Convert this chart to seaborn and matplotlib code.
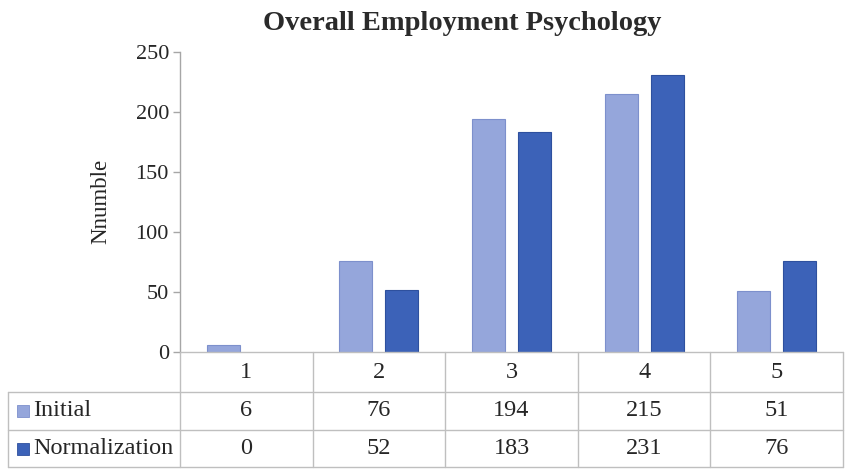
import matplotlib
matplotlib.use("Agg")
import matplotlib.pyplot as plt
from matplotlib.lines import Line2D
from matplotlib.patches import Rectangle
import seaborn as sns
import pandas as pd

categories = ["1", "2", "3", "4", "5"]
initial = [6, 76, 194, 215, 51]
normalization = [0, 52, 183, 231, 76]
series_names = ["Initial", "Normalization"]
title = "Overall Employment Psychology"
ylabel = "Nnumble"
yticks = [0, 50, 100, 150, 200, 250]

colors = ["#95A6DB", "#3C62B8"]
edges = ["#7D90CC", "#2E509E"]
grid_col = "#BFBFBF"

sns.set_theme(style="white")
plt.rcParams["font.family"] = ["Liberation Serif", "DejaVu Serif"]

df = pd.DataFrame({
    "cat": categories * 2,
    "value": initial + normalization,
    "series": [series_names[0]] * 5 + [series_names[1]] * 5,
})

W, H = 851, 472
fig = plt.figure(figsize=(W / 100, H / 100), dpi=100)
x0, x1, ytop, ybot = 180, 843, 52, 352
ax = fig.add_axes([x0 / W, 1 - ybot / H, (x1 - x0) / W, (ybot - ytop) / H])

sns.barplot(data=df, x="cat", y="value", hue="series", palette=colors,
            width=0.692, gap=0.28, ax=ax, legend=False, saturation=1)
for i, cont in enumerate(ax.containers):
    for p in cont:
        p.set_edgecolor(edges[i])
        p.set_linewidth(0.8 if p.get_height() > 0 else 0)

ax.set_xlim(-0.5, 4.5)
ax.set_ylim(0, 250)
ax.set_yticks(yticks)
ax.set_yticklabels([str(t) for t in yticks], fontsize=16, color="#262626")
ax.set_xticks([])
ax.set_xlabel("")
ax.set_ylabel("")
for s in ["top", "right", "bottom"]:
    ax.spines[s].set_visible(False)
ax.spines["left"].set_color("#A6A6A6")
ax.spines["left"].set_linewidth(1.0)
ax.tick_params(axis="y", direction="out", length=5, width=1, color="#A6A6A6", left=True, pad=3)

fig.text(101 / W, 1 - 201 / H, ylabel, rotation=90, ha="center", va="center",
         fontsize=16.5, color="#262626")
fig.text(462 / W, 1 - 24 / H, title, ha="center", va="center",
         fontsize=20.5, fontweight="bold", color="#2A2A2A")

# data table
tl = 8
rows_y = [352, 392, 430, 467]
colw = (x1 - x0) / len(categories)

def fx(px):
    return px / W

def fy(py):
    return 1 - py / H

lw = 1.0
fig.add_artist(Line2D([fx(x0), fx(x1)], [fy(352), fy(352)], color=grid_col, lw=lw))
for yy in rows_y[1:]:
    fig.add_artist(Line2D([fx(tl), fx(x1)], [fy(yy), fy(yy)], color=grid_col, lw=lw))
for k in range(len(categories) + 1):
    xx = x0 + k * colw
    fig.add_artist(Line2D([fx(xx), fx(xx)], [fy(352), fy(467)], color=grid_col, lw=lw))
fig.add_artist(Line2D([fx(tl), fx(tl)], [fy(392), fy(467)], color=grid_col, lw=lw))

fs = 17.5
for k, c in enumerate(categories):
    cx = x0 + (k + 0.5) * colw
    fig.text(fx(cx), fy((352 + 392) / 2), c, ha="center", va="center", fontsize=fs, color="#262626")
    fig.text(fx(cx), fy((392 + 430) / 2), str(initial[k]), ha="center", va="center", fontsize=fs, color="#262626")
    fig.text(fx(cx), fy((430 + 467) / 2), str(normalization[k]), ha="center", va="center", fontsize=fs, color="#262626")

for r, name in enumerate(series_names):
    yc = (rows_y[r + 1] + rows_y[r + 2]) / 2
    fig.add_artist(Rectangle((fx(17), fy(yc + 6)), 12 / W, 12 / H,
                             facecolor=colors[r], edgecolor=edges[r], lw=0.6,
                             transform=fig.transFigure))
    fig.text(fx(33), fy(yc), name, ha="left", va="center", fontsize=fs, color="#262626")

fig.savefig("out.png", dpi=100)
